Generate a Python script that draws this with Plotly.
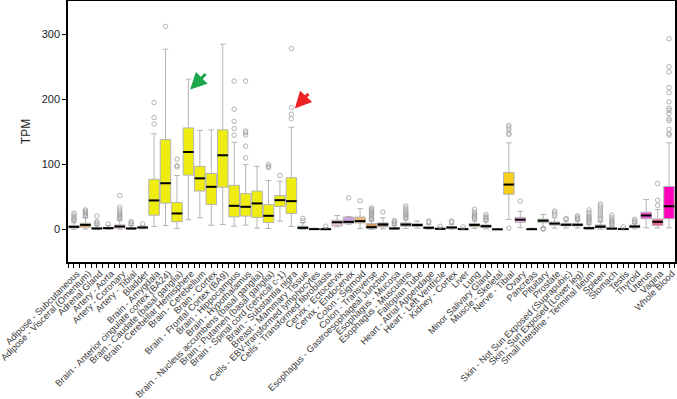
import plotly.graph_objects as go

tissues = [
    "Adipose - Subcutaneous", "Adipose - Visceral (Omentum)", "Adrenal Gland",
    "Artery - Aorta", "Artery - Coronary", "Artery - Tibial", "Bladder",
    "Brain - Amygdala", "Brain - Anterior cingulate cortex (BA24)",
    "Brain - Caudate (basal ganglia)", "Brain - Cerebellar Hemisphere",
    "Brain - Cerebellum", "Brain - Cortex", "Brain - Frontal Cortex (BA9)",
    "Brain - Hippocampus", "Brain - Hypothalamus",
    "Brain - Nucleus accumbens (basal ganglia)", "Brain - Putamen (basal ganglia)",
    "Brain - Spinal cord (cervical c-1)", "Brain - Substantia nigra",
    "Breast - Mammary Tissue", "Cells - EBV-transformed lymphocytes",
    "Cells - Transformed fibroblasts", "Cervix - Ectocervix", "Cervix - Endocervix",
    "Colon - Sigmoid", "Colon - Transverse",
    "Esophagus - Gastroesophageal Junction", "Esophagus - Mucosa",
    "Esophagus - Muscularis", "Fallopian Tube", "Heart - Atrial Appendage",
    "Heart - Left Ventricle", "Kidney - Cortex", "Liver", "Lung",
    "Minor Salivary Gland", "Muscle - Skeletal", "Nerve - Tibial", "Ovary",
    "Pancreas", "Pituitary", "Prostate", "Skin - Not Sun Exposed (Suprapubic)",
    "Skin - Sun Exposed (Lower leg)", "Small Intestine - Terminal Ileum",
    "Spleen", "Stomach", "Testis", "Thyroid", "Uterus", "Vagina", "Whole Blood",
]

q1 = [2.5, 3.5, 0.8, 1.2, 2.5, 0.8, 2, 22, 40.5, 12, 83.5, 59, 38.5, 65, 19.4, 20.5,
      18.5, 10.8, 35.4, 24.6, 0.8, 0.2, 0.2, 5.5, 9, 10, 1.5, 4, 0.8, 5, 4.5, 1.5,
      0.5, 1.5, 0.2, 4, 3, 0, 54, 11, 0.1, 10.5, 6.5, 5.5, 5.5, 0.8, 2.5, 0.5, 0.2,
      3, 16.5, 6, 16.5]
median = [4, 7, 1.5, 2, 4.5, 1.5, 3, 44.6, 71, 24.6, 119, 78.5, 65.5, 114, 36.3, 34.8,
          40, 21, 45, 43.5, 2.5, 0.5, 0.4, 11, 11.7, 12.8, 3.5, 7.7, 1.5, 7.5, 6.8, 2.5,
          1, 3, 0.5, 7, 5, 0.2, 69, 15, 0.4, 13.5, 9, 7.2, 7.2, 2, 4.2, 1.3, 0.6,
          4.5, 21.5, 11.7, 35.7]
q3 = [6, 9.5, 2.5, 3, 7, 2.5, 4, 77, 138, 41.5, 156, 97, 86, 153, 67.7, 55,
      59, 38, 52, 79.4, 5, 1, 1, 14, 19, 19, 9, 10, 3, 10, 9, 4,
      1.8, 4.5, 1, 9, 7, 0.6, 87.7, 18.5, 0.8, 16, 11.5, 9, 9, 3.5, 7, 2.5, 1.2,
      6.5, 26.5, 16, 66]
lower = [0.3, 0.5, 0.1, 0.2, 0.3, 0.1, 0.8, 4.6, 6, 1.5, 15, 18, 6.6, 7.7, 5, 6.6,
         2, 1.5, 12.8, 4.6, 0.1, 0, 0, 4, 8, 1.5, 0.1, 1, 0.1, 1.5, 2, 0.3,
         0.1, 0.5, 0, 1.5, 1, 0, 15.4, 3, 0, 3.5, 2, 2, 2, 0, 0.5, 0, 0,
         1, 2.5, 2.5, 2.5]
upper = [11, 18, 6, 6, 14, 6, 6, 147, 277, 83, 231, 152, 153, 284.6, 134, 100,
         97, 75, 74, 157, 10.7, 2, 3, 21.4, 20, 32, 13, 18, 6, 15, 13, 8,
         3.5, 8, 2.5, 13, 12, 1.5, 133, 28, 2, 23, 18, 13, 13, 8, 12, 5, 2.5,
         9.5, 46, 30.5, 133]
outliers = [
    [13, 15, 17, 19, 22, 25], [20, 22, 24, 26, 28, 30], [8, 10, 12, 20.5], [8],
    [16, 18, 20, 22, 24, 27, 30, 34, 52], [8, 10, 12], [8.5],
    [162, 172, 195], [312], [96, 98, 108], [], [], [], [],
    [145, 155, 166, 184.6, 228], [110, 128, 145, 148.6, 151, 228], [],
    [95, 97, 100], [83], [170, 177, 187, 278],
    [13, 17], [], [5], [], [48.6], [44],
    [15, 17, 19, 21, 23, 25, 27, 29, 31, 33], [26.6], [8, 10, 12, 14],
    [17, 19, 21, 23, 25, 27, 30, 33, 36], [], [11, 13], [5], [11, 13], [4],
    [16, 18, 20, 22, 24, 27, 31], [14, 16, 18, 20, 23], [],
    [2, 146, 148, 153, 157, 160], [43.5], [], [0.5, 1.5], [22, 25, 28],
    [15, 17], [15, 17, 19, 21], [10, 12, 14, 16, 18, 20, 23, 26, 30],
    [14, 17, 20, 23, 26, 29, 32, 36, 39], [7, 9, 11, 13, 15, 18, 22], [4],
    [11, 13, 15.5], [], [37, 45, 70.5],
    [145, 147, 154, 167, 170, 178, 183, 186, 196, 210, 218, 242, 250, 293],
]
colors = [
    "#FF9940", "#E8A33A", "#8FBC8F", "#8B1C62", "#E8A090", "#FF3030", "#CDB79E",
] + ["#EEEC10"] * 13 + [
    "#33CCCC", "#CC66FF", "#AAEEFF", "#F2C9CC", "#C8A2D8", "#EEB87A", "#CD9B5A",
    "#8B7355", "#552200", "#BB9988", "#F5CCCC", "#9900FF", "#660099", "#22DDCC",
    "#AABB66", "#99CC33", "#99BB88", "#AAAAFF", "#F7CE1A", "#F5A8F0", "#995522",
    "#A8E6A0", "#DDDDDD", "#3344AA", "#7777FF", "#555522", "#778855", "#FFDD99",
    "#AAAAAA", "#006600", "#EE55DD", "#F06090", "#FF00BB",
]

xs = list(range(len(tissues)))
BW = 0.92

fig = go.Figure()
for i in xs:
    fig.add_trace(go.Box(
        x=[i], q1=[q1[i]], median=[median[i]], q3=[q3[i]],
        lowerfence=[lower[i]], upperfence=[upper[i]],
        width=BW, whiskerwidth=0.55, fillcolor=colors[i],
        line=dict(color="#b4b4b4", width=1), boxpoints=False,
        showlegend=False, hoverinfo="skip",
    ))

# median bars
mx, my = [], []
for i in xs:
    mx += [i - BW / 2, i + BW / 2, None]
    my += [median[i], median[i], None]
fig.add_trace(go.Scatter(x=mx, y=my, mode="lines",
                         line=dict(color="black", width=2), showlegend=False,
                         hoverinfo="skip"))

# outliers
ox, oy = [], []
for i in xs:
    for v in outliers[i]:
        ox.append(i)
        oy.append(v)
fig.add_trace(go.Scatter(x=ox, y=oy, mode="markers",
                         marker=dict(symbol="circle-open", size=4.5,
                                     color="#a0a0a0", line=dict(width=0.8)),
                         showlegend=False, hoverinfo="skip"))

ich = tissues.index("Brain - Cerebellar Hemisphere")
isn = tissues.index("Brain - Substantia nigra")
fig.add_annotation(x=ich + 0.15, y=upper[ich] - 16, ax=17, ay=-17, text="",
                   showarrow=True, arrowhead=2, arrowsize=1.1, arrowwidth=3,
                   arrowcolor="#1aa84a", standoff=0)
fig.add_annotation(x=isn + 0.3, y=outliers[isn][2] - 1, ax=15, ay=-16, text="",
                   showarrow=True, arrowhead=2, arrowsize=1.1, arrowwidth=3,
                   arrowcolor="#ee2222", standoff=0)

font_family = "Liberation Sans, Arial, sans-serif"
fig.update_layout(
    width=677, height=399,
    margin=dict(l=68, r=2, t=1, b=137),
    paper_bgcolor="white", plot_bgcolor="white",
    font=dict(family=font_family, color="#333"),
    xaxis=dict(
        range=[-0.52, 52.52], tickmode="array", tickvals=xs, ticktext=tissues,
        tickangle=-45, tickfont=dict(size=9.2, color="#3a3a3a"),
        ticklabeloverflow="allow", ticklabelshift=3, ticklabelstandoff=-3,
        ticks="outside", ticklen=4, tickcolor="black", tickwidth=1,
        minor=dict(tickvals=[i + 0.5 for i in range(-1, len(tissues))],
                   ticks="outside", ticklen=4, tickcolor="black", tickwidth=1),
        showline=True, linecolor="black", linewidth=1.5, mirror=True,
        showgrid=False, zeroline=False, automargin=False,
    ),
    yaxis=dict(
        range=[-50, 351], tickvals=[0, 100, 200, 300],
        tickfont=dict(size=11, color="#222"),
        ticks="outside", ticklen=4, tickcolor="black",
        showline=True, linecolor="black", linewidth=1.5, mirror=True,
        showgrid=False, zeroline=False,
        title=dict(text="TPM", font=dict(size=12, color="#222"), standoff=8),
        automargin=False,
    ),
)

fig.write_html(
    "out.html",
    config={"displayModeBar": False},
    post_script="document.body.style.margin='0';document.body.style.padding='0';",
)
